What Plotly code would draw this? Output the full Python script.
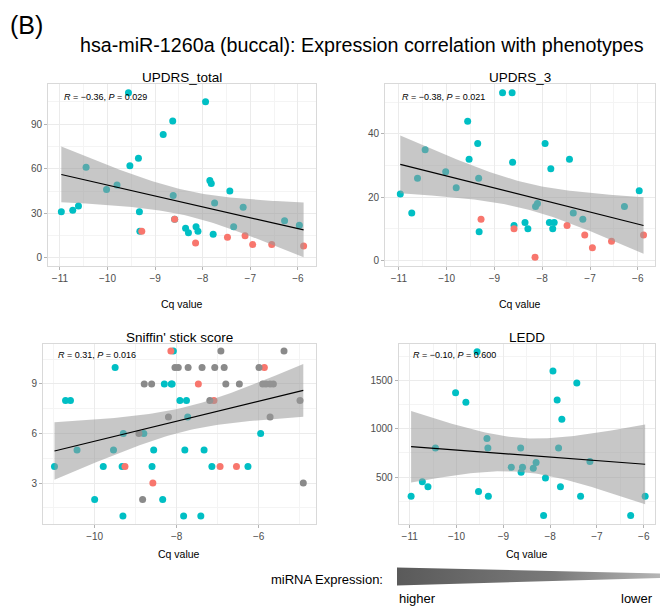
import numpy as np
import plotly.graph_objects as go

# ---------------- data ----------------
# shared Cq values for UPDRS_total / UPDRS_3 / LEDD panels
teal_cq = [-10.97, -10.73, -10.61, -10.45, -10.02, -9.80, -9.56, -9.53, -9.35, -9.33, -9.32,
           -8.83, -8.63, -8.62, -8.59, -8.36, -8.30, -8.14, -8.10, -7.94, -7.85, -7.82,
           -7.78, -7.75, -7.43, -7.35, -7.15, -6.28, -5.97]
salmon_cq = [-9.28, -8.59, -8.15, -7.48, -7.11, -6.95, -6.55, -5.88]

updrs_total_teal = [31, 32, 35, 61, 46, 49, 111, 62, 67, 31, 18, 83, 92, 42, 26, 20, 17, 21, 18,
                    105, 52, 50, 16, 37, 45, 21, 34, 25, 22]
updrs_total_salmon = [18, 26, 10, 14, 15, 9, 9, 8]

updrs3_teal = [21, 15, 26, 35, 28, 23, 44, 32, 37, 26, 9, 53, 53, 31, 11, 12, 10, 17, 18,
               37, 12, 29, 10, 12, 32, 15, 13, 17, 22]
updrs3_salmon = [13, 10, 1, 11, 8, 4, 6, 8]

ledd_teal = [300, 450, 400, 800, 1375, 1275, 1800, 350, 900, 800, 300, 600, 800, 550, 600, 590,
             650, 100, 490, 1600, 1300, 800, 400, 1100, 1475, 300, 660, 100, 300]

# Sniffin' stick panel
sniff_teal_cq = [-10.98, -10.71, -10.59, -10.43, -10.00, -9.79, -9.54, -9.50, -9.33, -9.31, -9.30,
                 -8.80, -8.60, -8.56, -8.34, -8.30, -8.13, -8.11, -8.08, -7.92, -7.83, -7.80,
                 -7.76, -7.73, -7.41, -7.33, -7.14, -6.26, -5.95]
sniff_teal = [4, 8, 8, 5, 2, 4, 5, 10, 4, 1, 6, 6, 4, 5, 2, 9, 9, 9, 11, 8, 1, 5, 8, 7, 1, 5, 4, 4, 6]
sniff_salmon_cq = [-9.26, -8.58, -8.14, -7.47, -7.09, -6.94, -6.54, -5.86]
sniff_salmon = [4, 3, 11, 9, 8, 4, 4, 10]
sniff_grey_cq = [-8.92, -8.83, -8.79, -8.61, -8.20, -8.04, -7.96, -7.72, -7.38, -7.19, -7.07, -6.92,
                 -6.84, -6.80, -6.47, -5.99, -5.90, -5.82, -5.72, -5.72, -5.64, -5.38, -4.99, -4.91]
sniff_grey = [6, 2, 9, 9, 7, 10, 10, 10, 10, 8, 10, 11, 10, 9, 9, 10, 9, 9, 9, 7, 9, 11, 8, 3]

panel_titles = ["UPDRS_total", "UPDRS_3", "Sniffin' stick score", "LEDD"]
stat_labels = ["<i>R</i> = −0.36, <i>P</i> = 0.029", "<i>R</i> = −0.38, <i>P</i> = 0.021",
               "<i>R</i> = 0.31, <i>P</i> = 0.016", "<i>R</i> = −0.10, <i>P</i> = 0.600"]
main_title = "hsa-miR-1260a (buccal): Expression correlation with phenotypes"
panel_label = "(B)"
x_title = "Cq value"
legend_title = "miRNA Expression:"
legend_ends = ["higher", "lower"]

# ---------------- styling ----------------
TEAL = "#00BFC4"
SALMON = "#F8766D"
GREY = "#8A8A8A"
FONT = "Liberation Sans, Arial, Helvetica, sans-serif"
W, H = 664, 606


def t975(df):
    z = 1.959963985
    g1 = (z**3 + z) / 4
    g2 = (5 * z**5 + 16 * z**3 + 3 * z) / 96
    g3 = (3 * z**7 + 19 * z**5 + 17 * z**3 - 15 * z) / 384
    g4 = (79 * z**9 + 776 * z**7 + 1482 * z**5 - 1920 * z**3 - 945 * z) / 92160
    return z + g1 / df + g2 / df**2 + g3 / df**3 + g4 / df**4


def lm_band(x, y, n=80):
    x = np.asarray(x, float)
    y = np.asarray(y, float)
    k = len(x)
    xb, yb = x.mean(), y.mean()
    sxx = ((x - xb) ** 2).sum()
    b = ((x - xb) * (y - yb)).sum() / sxx
    a = yb - b * xb
    s = np.sqrt(((y - (a + b * x)) ** 2).sum() / (k - 2))
    g = np.linspace(x.min(), x.max(), n)
    fit = a + b * g
    se = s * np.sqrt(1 / k + (g - xb) ** 2 / sxx)
    t = t975(k - 2)
    return g, fit, fit - t * se, fit + t * se


def py(p):
    return 1 - p / H


def px(p):
    return p / W


fig = go.Figure()

panels = [
    dict(ax="", groups=[(teal_cq, updrs_total_teal, TEAL), (salmon_cq, updrs_total_salmon, SALMON)],
         dom_x=(48, 316), dom_y=(84, 266), xr=(-11.25, -5.62), yr=(-5.4, 116.9),
         xt=1, xm=0.5, yt=30, ym=15, stat=(0.051, 0.931), xtitle_y=304),
    dict(ax="2", groups=[(teal_cq, updrs3_teal, TEAL), (salmon_cq, updrs3_salmon, SALMON)],
         dom_x=(385, 655), dom_y=(84, 266), xr=(-11.29, -5.64), yr=(-1.8, 55.8),
         xt=1, xm=0.5, yt=20, ym=10, stat=(0.057, 0.931), xtitle_y=304),
    dict(ax="3", groups=[(sniff_teal_cq, sniff_teal, TEAL), (sniff_salmon_cq, sniff_salmon, SALMON),
                         (sniff_grey_cq, sniff_grey, GREY)],
         dom_x=(43, 316), dom_y=(344, 524), xr=(-11.26, -4.6), yr=(0.52, 11.42),
         xt=2, xm=1, yt=3, ym=1.5, stat=(0.048, 0.939), xtitle_y=554),
    dict(ax="4", groups=[(teal_cq, ledd_teal, TEAL)],
         dom_x=(398.7, 655), dom_y=(344, 524), xr=(-11.235, -5.76), yr=(12, 1881),
         xt=1, xm=0.5, yt=500, ym=250, stat=(0.049, 0.939), xtitle_y=554),
]

annotations = []
for i, p in enumerate(panels):
    xa, ya = "x" + p["ax"], "y" + p["ax"]
    allx, ally = [], []
    # points (drawn first, like ggscatter)
    for gx, gy, col in p["groups"]:
        allx += list(gx)
        ally += list(gy)
        fig.add_trace(go.Scatter(x=gx, y=gy, mode="markers", xaxis=xa, yaxis=ya,
                                 marker=dict(color=col, size=7, line=dict(width=0)),
                                 showlegend=False, hoverinfo="x+y"))
    g, fit, lo, hi = lm_band(allx, ally)
    fig.add_trace(go.Scatter(x=np.concatenate([g, g[::-1]]), y=np.concatenate([hi, lo[::-1]]),
                             fill="toself", fillcolor="rgba(153,153,153,0.55)",
                             line=dict(width=0), mode="lines", xaxis=xa, yaxis=ya,
                             showlegend=False, hoverinfo="skip"))
    fig.add_trace(go.Scatter(x=g, y=fit, mode="lines", line=dict(color="black", width=1.2),
                             xaxis=xa, yaxis=ya, showlegend=False, hoverinfo="skip"))

    axis_common = dict(showline=True, mirror=True, linecolor="#D9D9D9", linewidth=1,
                       showgrid=True, gridcolor="#EBEBEB", gridwidth=1, zeroline=False,
                       ticks="outside", ticklen=3, tickcolor="#B3B3B3", tickwidth=1,
                       tickfont=dict(family=FONT, size=10, color="#4D4D4D"), fixedrange=True)
    xkey = "xaxis" + p["ax"]
    ykey = "yaxis" + p["ax"]
    fig.update_layout(**{
        xkey: dict(axis_common, domain=[px(p["dom_x"][0]), px(p["dom_x"][1])], range=list(p["xr"]),
                   dtick=p["xt"], tick0=0, anchor=ya,
                   minor=dict(showgrid=True, gridcolor="#F4F4F4", dtick=p["xm"], tick0=0)),
        ykey: dict(axis_common, domain=[py(p["dom_y"][1]), py(p["dom_y"][0])], range=list(p["yr"]),
                   dtick=p["yt"], tick0=0, anchor=xa,
                   minor=dict(showgrid=True, gridcolor="#F4F4F4", dtick=p["ym"], tick0=0)),
    })
    cx = (p["dom_x"][0] + p["dom_x"][1]) / 2
    # panel title
    annotations.append(dict(text=panel_titles[i], x=px(cx), y=py(p["dom_y"][0] - 7), xref="paper",
                            yref="paper", showarrow=False, xanchor="center", yanchor="middle",
                            font=dict(family=FONT, size=13.5, color="black")))
    # axis title
    annotations.append(dict(text=x_title, x=px(cx), y=py(p["xtitle_y"]), xref="paper",
                            yref="paper", showarrow=False, xanchor="center", yanchor="middle",
                            font=dict(family=FONT, size=10.5, color="black")))
    # stat label
    annotations.append(dict(text=stat_labels[i], x=p["stat"][0], y=p["stat"][1],
                            xref=xa + " domain", yref=ya + " domain", showarrow=False,
                            xanchor="left", yanchor="middle",
                            font=dict(family=FONT, size=9, color="black")))

annotations.append(dict(text=panel_label, x=px(8), y=py(25), xref="paper", yref="paper",
                        showarrow=False, xanchor="left", yanchor="middle",
                        font=dict(family=FONT, size=25, color="black")))
annotations.append(dict(text=main_title, x=px(362), y=py(45), xref="paper", yref="paper",
                        showarrow=False, xanchor="center", yanchor="middle",
                        font=dict(family=FONT, size=19.7, color="black")))
annotations.append(dict(text=legend_title, x=px(385), y=py(579), xref="paper", yref="paper",
                        showarrow=False, xanchor="right", yanchor="middle",
                        font=dict(family=FONT, size=13, color="black")))
annotations.append(dict(text=legend_ends[0], x=px(397), y=py(598), xref="paper", yref="paper",
                        showarrow=False, xanchor="left", yanchor="middle",
                        font=dict(family=FONT, size=13, color="black")))
annotations.append(dict(text=legend_ends[1], x=px(655), y=py(598), xref="paper", yref="paper",
                        showarrow=False, xanchor="right", yanchor="middle",
                        font=dict(family=FONT, size=13, color="black")))

# gradient wedge in a hidden pixel-coordinate axis pair at the bottom
wedge_top = 0.09
fig.add_trace(go.Scatter(x=[397, 660, 660, 397, 397], y=[567.5, 573.5, 578, 585.5, 567.5],
                         xaxis="x5", yaxis="y5", mode="lines", fill="toself",
                         line=dict(width=0),
                         fillgradient=dict(type="horizontal",
                                           colorscale=[[0, "#5A5A5A"], [0.6, "#7A7A7A"], [1, "#B5B5B5"]]),
                         showlegend=False, hoverinfo="skip"))
fig.update_layout(
    xaxis5=dict(domain=[0, 1], range=[0, W], visible=False, fixedrange=True, anchor="y5"),
    yaxis5=dict(domain=[0, wedge_top], range=[H, H * (1 - wedge_top)], visible=False,
                fixedrange=True, anchor="x5"),
)

fig.update_layout(width=W, height=H, margin=dict(l=0, r=0, t=0, b=0),
                  paper_bgcolor="white", plot_bgcolor="white", showlegend=False,
                  annotations=annotations, font=dict(family=FONT))

fig.write_html("out.html", config={"displayModeBar": False},
               post_script="document.body.style.margin='0';document.body.style.overflow='hidden';")
